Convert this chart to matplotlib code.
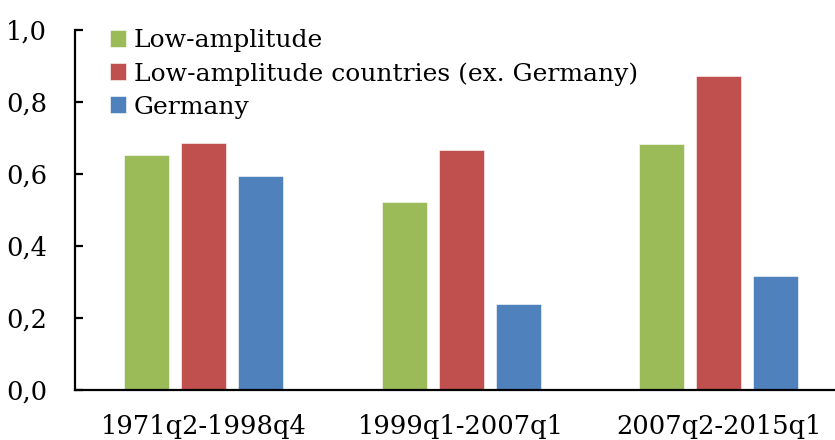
import matplotlib
matplotlib.use("Agg")
import matplotlib.pyplot as plt
import numpy as np

categories = ["1971q2-1998q4", "1999q1-2007q1", "2007q2-2015q1"]
series_names = ["Low-amplitude", "Low-amplitude countries (ex. Germany)", "Germany"]
low_amp = [0.654, 0.522, 0.682]
low_amp_ex_de = [0.685, 0.667, 0.872]
germany = [0.594, 0.238, 0.317]
colors = ["#9BBB59", "#C0504D", "#4F81BD"]
yticks = [0.0, 0.2, 0.4, 0.6, 0.8, 1.0]
ytick_labels = ["0,0", "0,2", "0,4", "0,6", "0,8", "1,0"]

plt.rcParams['font.family'] = ['DejaVu Serif']

fig = plt.figure(figsize=(8.35, 4.4), dpi=100)
W, H = 835, 440
ax = fig.add_axes([75 / W, 50 / H, (W - 75) / W, 360 / H])

x = np.arange(len(categories))
width = 0.175
step = 0.2214
for i, (vals, name, c) in enumerate(zip([low_amp, low_amp_ex_de, germany], series_names, colors)):
    ax.bar(x + (i - 1) * step, vals, width, color=c, label=name,
           edgecolor="white", linewidth=0.4)

ax.set_xlim(-0.5, 2.451)
ax.set_ylim(0, 1.0)
ax.set_yticks(yticks)
ax.set_yticklabels(ytick_labels)
ax.set_xticks(x)
ax.set_xticklabels(categories)

for s in ["top", "right"]:
    ax.spines[s].set_visible(False)
for s in ["left", "bottom"]:
    ax.spines[s].set_linewidth(1.6)
ax.tick_params(axis="y", direction="in", length=6, width=1.6, labelsize=18.5, pad=20)
ax.tick_params(axis="x", length=0, labelsize=18.5, pad=17)

leg = ax.legend(loc="upper left", bbox_to_anchor=(110 / W, 1 - 29 / H),
                bbox_transform=fig.transFigure, frameon=False, fontsize=18,
                handlelength=0.65, handleheight=0.65, handletextpad=0.3,
                labelspacing=0.4, borderaxespad=0, borderpad=0)

fig.savefig("out.png", dpi=100)
